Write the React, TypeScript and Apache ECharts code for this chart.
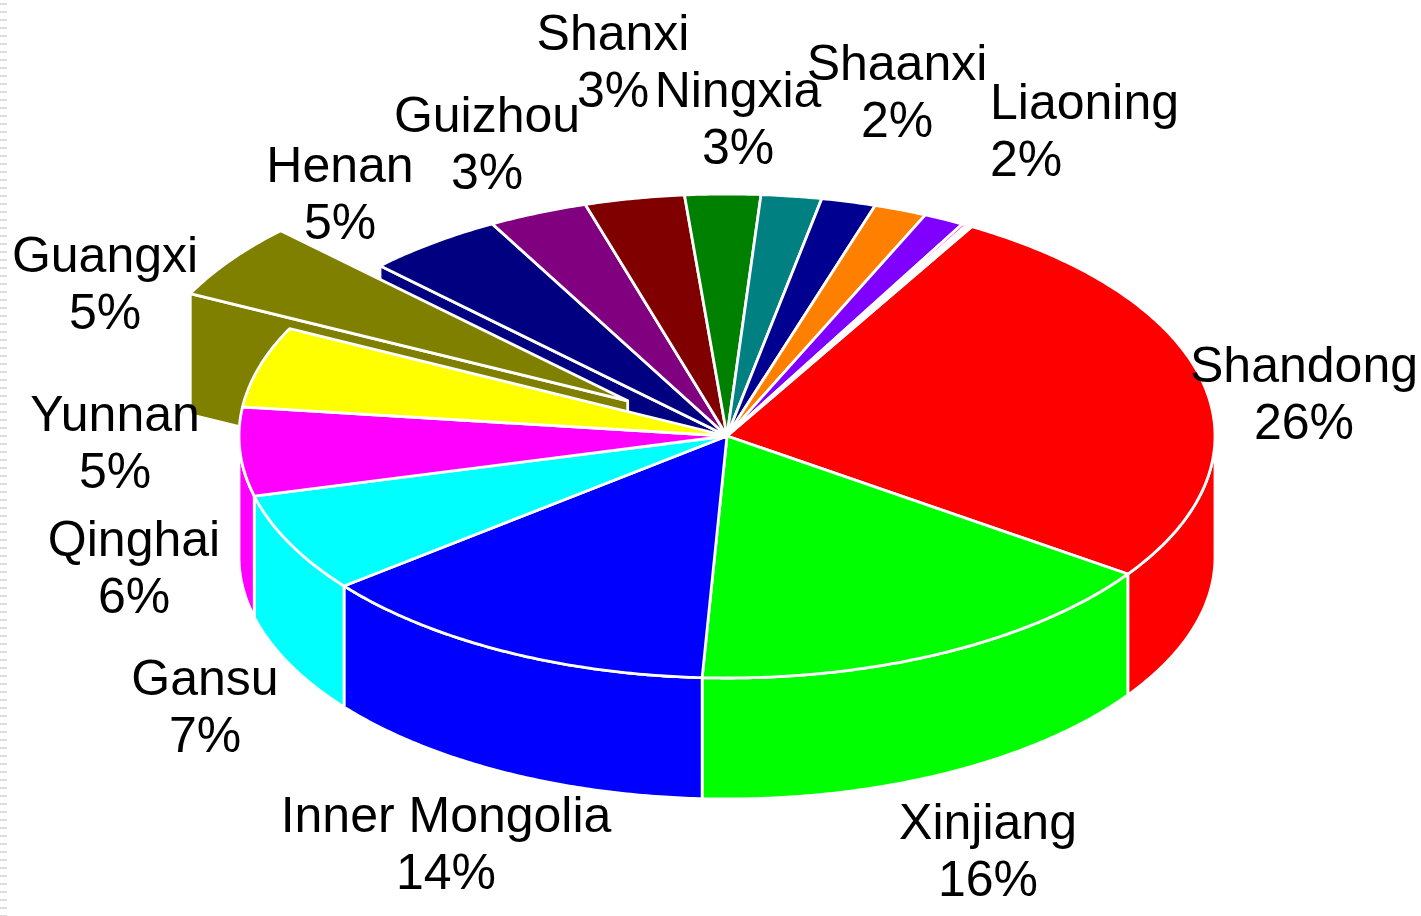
import React, { useEffect, useRef } from "react";
import * as echarts from "echarts";

const sliceNames = ["Shandong", "Xinjiang", "Inner Mongolia", "Gansu", "Qinghai", "Yunnan", "Guangxi", "Henan", "Guizhou", "Shanxi", "Ningxia", "Shaanxi", "Liaoning", "Other A", "Other B", "Other C", "Other D"];
const sliceValues = [26.3, 16.15, 13.55, 6.65, 5.9, 5.4, 5.1, 4.6, 3.3, 3.3, 2.5, 2.0, 1.8, 1.75, 1.35, 0.15, 0.2];
const sliceExplode = [0, 0, 0, 0, 0, 0, 0.25, 0, 0, 0, 0, 0, 0, 0, 0, 0, 0];
const sliceColors = ["#ff0000", "#00ff00", "#0000ff", "#00ffff", "#ff00ff", "#ffff00", "#808000", "#000080", "#800080", "#800000", "#008000", "#008080", "#000090", "#ff8000", "#8000ff", "#ff0080", "#ffffff"];
const percentLabels = ["26%", "16%", "14%", "7%", "6%", "5%", "5%", "5%", "3%", "3%", "3%", "2%", "2%"];
const labelAnchors: [number, number, string][] = [
  [1304, 393, "center"], [988, 850, "center"], [446, 843, "center"], [205, 706, "center"],
  [134, 567, "center"], [115, 442, "center"], [105, 283, "center"], [340, 193, "center"],
  [487, 143, "center"], [613, 61, "center"], [738, 118, "center"], [897, 91, "center"], [990, 130, "left"],
];

const CX = 727, CY = 436, RX = 488, RY = 242, DEPTH = 121, START = 30.1;
const total = sliceValues.reduce((a, b) => a + b, 0);
const RAD = Math.PI / 180;

function pt(t: number, ox: number, oy: number, dz = 0): number[] {
  return [CX + ox + RX * Math.sin(t * RAD), CY + oy - RY * Math.cos(t * RAD) + dz];
}
function arc(a: number, b: number, ox: number, oy: number, dz = 0): number[][] {
  const out: number[][] = [];
  const n = Math.max(2, Math.ceil((b - a) * 2));
  for (let i = 0; i <= n; i++) out.push(pt(a + ((b - a) * i) / n, ox, oy, dz));
  return out;
}

const stroke = { stroke: "#ffffff", lineWidth: 2.8, lineJoin: "round" };

function renderSlice(_: any, api: any) {
  const i = api.value(1) as number;
  const value = api.value(0) as number;
  let before = 0;
  for (let k = 0; k < i; k++) before += sliceValues[k];
  const a = START + (before / total) * 360;
  const b = a + (value / total) * 360;
  const mid = ((a + b) / 2) * RAD;
  const e = sliceExplode[i];
  const ox = RX * e * Math.sin(mid);
  const oy = -RY * e * Math.cos(mid);
  const color = sliceColors[i];
  const back = e > 0 ? 2 : i > 0 && sliceExplode[i - 1] > 0 ? 1 : 0;
  const children: any[] = [];
  const poly = (points: number[][], z2: number) =>
    children.push({ type: "polygon", z2, shape: { points }, style: { fill: color, ...stroke } });

  // radial wall, visible only where an exploded slice has opened a gap
  if (back > 0) {
    const o = [CX + ox, CY + oy];
    const p = pt(a, ox, oy);
    poly([o, p, [p[0], p[1] + DEPTH], [o[0], o[1] + DEPTH]], back * 2 - 1);
  }
  // outer wall: the front half of the ellipse
  const wa = Math.max(a, 90), wb = Math.min(b, 270);
  if (wb > wa) {
    poly([...arc(wa, wb, ox, oy), ...arc(wa, wb, ox, oy, DEPTH).reverse()], 5);
  }
  // top face
  poly([[CX + ox, CY + oy], ...arc(a, b, ox, oy)], back > 0 ? back * 2 : 6);
  return { type: "group", children };
}

export default function App() {
  const ref = useRef<HTMLDivElement>(null);
  useEffect(() => {
    document.body.style.margin = "0";
    const chart = echarts.init(ref.current!, undefined, { renderer: "svg" });
    const labels = percentLabels.map((p, i) => ({
      type: "text",
      z: 10,
      x: labelAnchors[i][0],
      y: labelAnchors[i][1],
      style: {
        text: sliceNames[i] + "\n" + p,
        fill: "#000000",
        font: '50px "Liberation Sans", Arial, sans-serif',
        lineHeight: 57,
        align: labelAnchors[i][2],
        verticalAlign: "middle",
      },
    }));
    const stripes = Array.from({ length: 115 }, (_, k) => ({
      type: "rect",
      shape: { x: 0, y: 3 + k * 8, width: 7, height: 2 },
      style: { fill: "#dedede" },
    }));
    chart.setOption({
      animation: false,
      backgroundColor: "#ffffff",
      graphic: [...stripes, ...labels],
      series: [
        {
          type: "custom",
          coordinateSystem: "none",
          silent: true,
          clip: false,
          renderItem: renderSlice,
          data: sliceValues.map((v, i) => [v, i]),
        },
      ],
    });
    return () => chart.dispose();
  }, []);
  return <div ref={ref} style={{ position: "absolute", left: 0, top: 0, width: 1421, height: 916 }} />;
}
